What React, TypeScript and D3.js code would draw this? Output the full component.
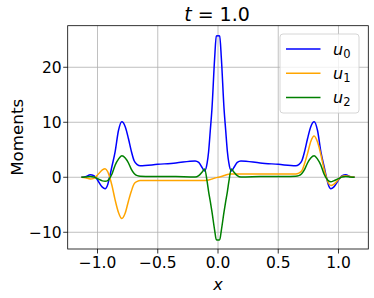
import * as d3 from 'd3'

// x grid of the sampled moments
const xs = [
  -1.134, -1.1, -1.06, -1.03, -1.0, -0.96, -0.937, -0.915, -0.9, -0.88, -0.854, -0.826, -0.798, -0.77,
  -0.743, -0.72, -0.696, -0.67, -0.646, -0.5, -0.35, -0.19, -0.16, -0.13, -0.111, -0.09, -0.078, -0.064,
  -0.05, -0.028, -0.014, 0, 0.014, 0.028, 0.05, 0.064, 0.078, 0.09, 0.111, 0.13, 0.16, 0.19, 0.35, 0.5,
  0.646, 0.67, 0.696, 0.72, 0.743, 0.77, 0.798, 0.826, 0.854, 0.88, 0.9, 0.915, 0.937, 0.96, 1.0, 1.03,
  1.06, 1.1, 1.134,
]

const u0 = [
  0, 0.1, 0.45, 0.3, -0.5, -1.8, -2.07, -1.3, 0, 2.0, 4.6, 8.5, 10.1, 9.2,
  7.0, 4.8, 3.0, 2.3, 2.1, 2.35, 2.6, 2.96, 2.7, 1.7, 1.15, 2.6, 4.65, 8.5,
  12.5, 21.6, 25.7, 25.75, 25.7, 21.6, 12.5, 8.5, 4.65, 2.6, 1.15, 1.7, 2.7, 2.96, 2.6, 2.35,
  2.1, 2.3, 3.0, 4.8, 7.0, 9.2, 10.1, 8.5, 4.6, 2.0, 0, -1.3, -2.07, -1.8, -0.5, 0.3,
  0.45, 0.1, 0,
]

const u1 = [
  0, -0.1, -0.3, -0.2, 0.4, 1.35, 1.57, 1.0, 0.1, -1.5, -4.1, -6.4, -7.5, -6.5,
  -4.3, -2.6, -1.2, -0.75, -0.6, -0.6, -0.6, -0.6, -0.6, -0.6, -0.58, -0.55, -0.5, -0.42,
  -0.32, -0.15, -0.06, 0, 0.06, 0.15, 0.32, 0.42, 0.5, 0.55, 0.58, 0.6, 0.6, 0.6, 0.6, 0.6,
  0.6, 0.75, 1.2, 2.6, 4.3, 6.5, 7.5, 6.4, 4.1, 1.5, -0.1, -1.0, -1.5, -1.3, -0.4, 0.2,
  0.3, 0.1, 0,
]

const u2 = [
  0, 0.05, 0.15, 0.05, -0.25, -0.65, -0.73, -0.6, -0.2, 0.6, 2.2, 3.3, 3.9, 3.5,
  2.6, 1.5, 0.7, 0.3, 0.2, 0.15, 0.12, 0.05, 0.3, 1.0, 1.5, -0.8, -2.6, -4.4,
  -6.3, -9.6, -11.35, -11.4, -11.35, -9.6, -6.3, -4.4, -2.6, -0.8, 1.5, 1.0, 0.3, 0.05, 0.12, 0.15,
  0.2, 0.3, 0.7, 1.5, 2.6, 3.5, 3.9, 3.3, 2.2, 0.6, -0.2, -0.6, -0.8, -0.65, -0.25, 0.05,
  0.15, 0.05, 0,
]

const seriesNames = ['0', '1', '2']
const seriesColors = ['#0000ff', '#ffa500', '#008000']
const xTicks = [-1.0, -0.5, 0.0, 0.5, 1.0]
const yTicks = [-10, 0, 10, 20]

const W = 374
const H = 298
const m = { left: 67.7, right: 368.3, top: 25.7, bottom: 249 }
const FONT = 'DejaVu Sans, sans-serif'

export default function App() {
  const x = d3.scaleLinear().domain([-1.2474, 1.2474]).range([m.left, m.right])
  const y = d3.scaleLinear().domain([-13.04, 27.56]).range([m.bottom, m.top])
  const line = d3
    .line<number>()
    .x((_, i) => x(xs[i]))
    .y(d => y(d))
    .curve(d3.curveMonotoneX)

  const fmtX = (v: number) => (v < 0 ? '\u2212' : '') + Math.abs(v).toFixed(1)
  const fmtY = (v: number) => (v < 0 ? '\u2212' : '') + Math.abs(v)

  const series = [u0, u1, u2]

  return (
    <svg
      width={W}
      height={H}
      style={{ position: 'absolute', left: 0, top: 0, background: '#fff' }}
      fontFamily={FONT}
    >
      <rect width={W} height={H} fill="#fff" />
      {/* grid */}
      {xTicks.map(t => (
        <line key={'gx' + t} x1={x(t)} x2={x(t)} y1={m.top} y2={m.bottom} stroke="#b0b0b0" strokeWidth={0.8} />
      ))}
      {yTicks.map(t => (
        <line key={'gy' + t} x1={m.left} x2={m.right} y1={y(t)} y2={y(t)} stroke="#b0b0b0" strokeWidth={0.8} />
      ))}

      <defs>
        <clipPath id="plot">
          <rect x={m.left} y={m.top} width={m.right - m.left} height={m.bottom - m.top} />
        </clipPath>
      </defs>
      <g clipPath="url(#plot)">
        {series.map((s, i) => (
          <path key={i} d={line(s) ?? ''} fill="none" stroke={seriesColors[i]} strokeWidth={1.5} strokeLinejoin="round" />
        ))}
      </g>

      {/* frame */}
      <rect x={m.left} y={m.top} width={m.right - m.left} height={m.bottom - m.top} fill="none" stroke="#000" strokeWidth={0.8} />

      {/* x ticks */}
      {xTicks.map(t => (
        <g key={'xt' + t}>
          <line x1={x(t)} x2={x(t)} y1={m.bottom} y2={m.bottom + 4.5} stroke="#000" strokeWidth={0.8} />
          <text x={x(t)} y={m.bottom + 19} textAnchor="middle" fontSize={15.5} fill="#000">
            {fmtX(t)}
          </text>
        </g>
      ))}
      {/* y ticks */}
      {yTicks.map(t => (
        <g key={'yt' + t}>
          <line x1={m.left - 4.5} x2={m.left} y1={y(t)} y2={y(t)} stroke="#000" strokeWidth={0.8} />
          <text x={m.left - 6} y={y(t) + 5.6} textAnchor="end" fontSize={15.5} fill="#000">
            {fmtY(t)}
          </text>
        </g>
      ))}

      {/* title */}
      <text x={217} y={21.3} textAnchor="middle" fontSize={19} fill="#000">
        <tspan fontStyle="italic">t</tspan>
        <tspan> = 1.0</tspan>
      </text>

      {/* axis labels */}
      <text x={(m.left + m.right) / 2} y={290} textAnchor="middle" fontSize={16} fontStyle="italic" fill="#000">
        x
      </text>
      <text transform={`translate(23,${(m.top + m.bottom) / 2}) rotate(-90)`} textAnchor="middle" fontSize={16.7} fill="#000">
        Moments
      </text>

      {/* legend */}
      <g>
        <rect x={280} y={34} width={79} height={79} rx={3} fill="#fff" fillOpacity={0.8} stroke="#cccccc" strokeWidth={0.8} />
        {seriesNames.map((n, i) => (
          <g key={n} transform={`translate(0,${49 + i * 24.2})`}>
            <line x1={286} x2={320.5} y1={0} y2={0} stroke={seriesColors[i]} strokeWidth={1.5} />
            <text x={333} y={6} fontSize={16} fill="#000">
              <tspan fontStyle="italic">u</tspan>
              <tspan fontSize={11.5} dy={3}>{n}</tspan>
            </text>
          </g>
        ))}
      </g>
    </svg>
  )
}
